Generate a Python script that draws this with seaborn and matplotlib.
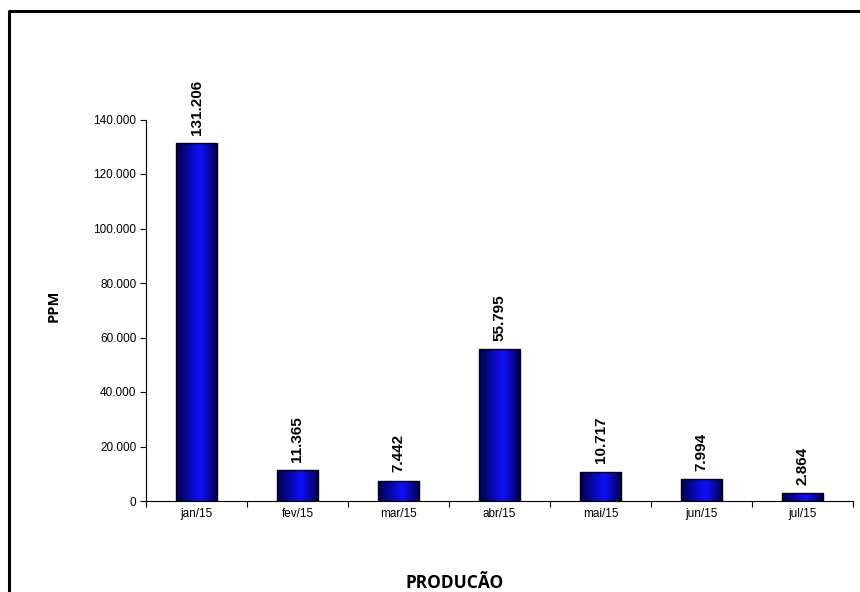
import numpy as np
import pandas as pd
import matplotlib
matplotlib.use("Agg")
import matplotlib.pyplot as plt
import seaborn as sns
from matplotlib.colors import LinearSegmentedColormap
from matplotlib.lines import Line2D
from matplotlib.ticker import FuncFormatter, FixedLocator
from matplotlib import font_manager as fm

months = ["jan/15", "fev/15", "mar/15", "abr/15", "mai/15", "jun/15", "jul/15"]
ppm = [131206, 11365, 7442, 55795, 10717, 7994, 2864]
y_ticks = [0, 20000, 40000, 60000, 80000, 100000, 120000, 140000]

df = pd.DataFrame({"mes": months, "ppm": ppm})

sns.set_theme(style="white")
plt.rcParams["font.family"] = ["Liberation Sans", "DejaVu Sans"]
plt.rcParams["text.color"] = "black"
plt.rcParams["axes.labelcolor"] = "black"
plt.rcParams["xtick.color"] = "black"
plt.rcParams["ytick.color"] = "black"

# pick the non-narrow bold Liberation Sans file explicitly if present
bold_fp = None
for f in fm.fontManager.ttflist:
    if f.name == "Liberation Sans" and f.weight in (700, "bold") and "Narrow" not in f.fname:
        bold_fp = fm.FontProperties(fname=f.fname)
        break
if bold_fp is None:
    bold_fp = fm.FontProperties(family="DejaVu Sans", weight="bold")

fig = plt.figure(figsize=(8.6, 5.92), dpi=100)
ax = fig.add_axes([146 / 860, 1 - 501 / 592, 707 / 860, (501 - 119.5) / 592])

sns.barplot(data=df, x="mes", y="ppm", ax=ax, width=0.4, color="blue",
            edgecolor="black", linewidth=1.0, saturation=1)

# gradient fill
cmap = LinearSegmentedColormap.from_list(
    "grad", [(0.0, (0.0, 0.0, 0.28)), (0.6, (0.06, 0.06, 1.0)), (1.0, (0.0, 0.0, 0.33))])
grad = np.linspace(0, 1, 256).reshape(1, -1)
for p in ax.patches:
    x0, y0, w, h = p.get_x(), p.get_y(), p.get_width(), p.get_height()
    im = ax.imshow(grad, cmap=cmap, aspect="auto", extent=[x0, x0 + w, y0, y0 + h],
                   zorder=2, interpolation="bicubic")
    im.set_clip_path(p)
    p.set_facecolor("none")
    p.set_zorder(3)
ax.set_xlim(-0.5, len(months) - 0.5)
ax.set_ylim(0, 140000)

# value labels
labels = [f"{v:,}".replace(",", ".") for v in ppm]
vfp = bold_fp.copy()
vfp.set_size(11)
ax.bar_label(ax.containers[0], labels=labels, rotation=90, padding=6,
             fontproperties=vfp, color="black")

# spines
for s in ["top", "right"]:
    ax.spines[s].set_visible(False)
for s in ["left", "bottom"]:
    ax.spines[s].set_visible(True)
    ax.spines[s].set_color("black")
    ax.spines[s].set_linewidth(0.8)

ax.yaxis.set_major_locator(FixedLocator(y_ticks))
ax.yaxis.set_major_formatter(FuncFormatter(lambda v, _: f"{int(v):,}".replace(",", ".")))
ax.tick_params(axis="y", which="major", direction="out", length=4, width=0.8,
               color="black", labelsize=8.5, pad=3, left=True, labelcolor="black")
ax.set_xticks(np.arange(-0.5, len(months), 1.0), minor=True)
ax.tick_params(axis="x", which="minor", direction="out", length=4, width=0.8,
               color="black", bottom=True)
ax.tick_params(axis="x", which="major", length=0, labelsize=8.5, pad=5, labelcolor="black")

ax.set_ylabel("PPM", fontsize=10.5, fontweight="bold", color="black",
              family=["Open Sans", "DejaVu Sans"])
ax.yaxis.set_label_coords(-0.121, 0.511)
ax.set_xlabel("PRODUCÃO", fontsize=12.5, fontweight="bold", color="black",
              family=["Open Sans", "DejaVu Sans"])
ax.xaxis.set_label_coords(0.437, -0.191)
ax.grid(False)

# outer frame
fig.add_artist(Line2D([9 / 860, 9 / 860, 1.01], [-0.01, 1 - 11 / 592, 1 - 11 / 592],
                      transform=fig.transFigure, color="black", linewidth=2.2))

fig.savefig("out.png", dpi=100)
